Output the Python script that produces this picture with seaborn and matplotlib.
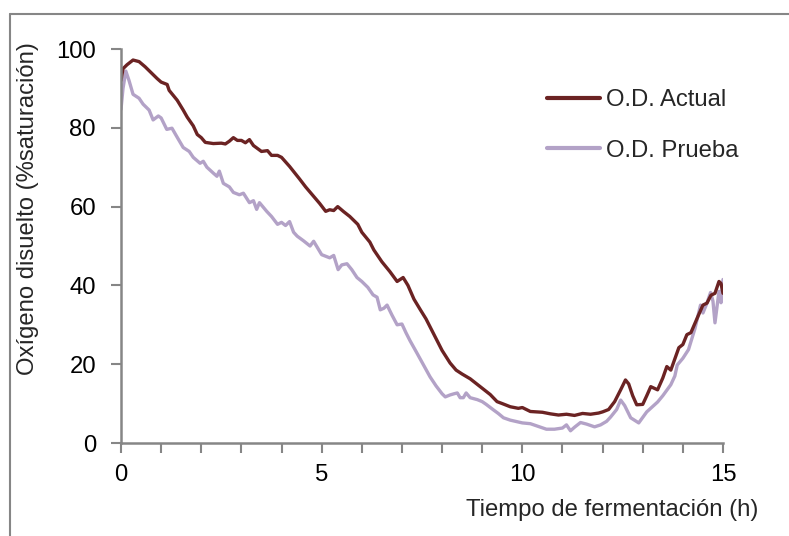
import matplotlib
matplotlib.use("Agg")
import numpy as np
import pandas as pd
import seaborn as sns
from matplotlib import pyplot as plt
from matplotlib.lines import Line2D
from matplotlib.ticker import MultipleLocator

# O.D. Actual
actual_t = [0.0, 0.05, 0.15, 0.3, 0.45, 0.6, 0.75, 0.9, 1.0, 1.15, 1.2, 1.4, 1.55, 1.65,
            1.8, 1.9, 2.0, 2.1, 2.3, 2.5, 2.6, 2.7, 2.8, 2.9, 3.0, 3.1, 3.2, 3.3, 3.5,
            3.65, 3.75, 3.9, 4.0, 4.2, 4.45, 4.6, 4.8, 4.95, 5.1, 5.2, 5.3, 5.4, 5.55,
            5.7, 5.9, 6.0, 6.2, 6.3, 6.5, 6.7, 6.88, 7.03, 7.15, 7.3, 7.46, 7.6, 7.8,
            8.0, 8.2, 8.35, 8.5, 8.7, 8.95, 9.2, 9.37, 9.5, 9.7, 9.9, 10.0, 10.2, 10.5,
            10.7, 10.9, 11.1, 11.3, 11.5, 11.7, 11.9, 12.0, 12.15, 12.3, 12.45, 12.57,
            12.65, 12.75, 12.85, 13.0, 13.1, 13.2, 13.37, 13.5, 13.6, 13.7, 13.9, 14.0,
            14.1, 14.2, 14.37, 14.5, 14.6, 14.7, 14.8, 14.9, 14.95, 15.0]
actual_od = [92, 95, 96, 97.2, 96.8, 95.5, 94, 92.5, 91.6, 91, 89.5, 87, 84.5, 82.7,
             80.5, 78.3, 77.5, 76.3, 76, 76.1, 75.9, 76.6, 77.5, 76.8, 76.8, 76.2, 77, 75.5, 74,
             74.2, 73, 73, 72.5, 70.2, 67, 65, 62.6, 60.8, 58.8, 59.2, 59, 60, 58.7,
             57.5, 55.5, 53.5, 51, 49, 46, 43.5, 41, 42, 40, 36.5, 33.8, 31.5, 27.5,
             23.5, 20.3, 18.5, 17.5, 16.3, 14.3, 12.3, 10.5, 10, 9.2, 8.8, 9, 8, 7.8,
             7.4, 7.1, 7.3, 7, 7.5, 7.3, 7.6, 7.9, 8.5, 10.5, 13.5, 16,
             15, 12, 9.7, 9.8, 12, 14.3, 13.5, 16.5, 19.4, 18.5, 24.2, 25,
             27.5, 28, 32, 35, 35.5, 37.5, 38, 41, 40.5, 38]

# O.D. Prueba
prueba_t = [0.0, 0.05, 0.12, 0.2, 0.3, 0.45, 0.55, 0.7, 0.8, 0.93, 1.0, 1.14, 1.27, 1.4,
            1.55, 1.7, 1.8, 1.97, 2.05, 2.14, 2.3, 2.39, 2.45, 2.55, 2.7, 2.8, 2.95, 3.05,
            3.2, 3.3, 3.38, 3.45, 3.63, 3.75, 3.9, 4.0, 4.1, 4.2, 4.3, 4.39, 4.55, 4.71,
            4.8, 5.0, 5.2, 5.3, 5.41, 5.5, 5.63, 5.75, 5.88, 6.0, 6.15, 6.28, 6.38, 6.46,
            6.55, 6.63, 6.75, 6.88, 7.0, 7.1, 7.2, 7.37, 7.5, 7.7, 7.85, 8.0, 8.08, 8.2,
            8.3, 8.38, 8.45, 8.53, 8.6, 8.7, 8.88, 9.0, 9.1, 9.28, 9.4, 9.53, 9.7, 10.0,
            10.2, 10.4, 10.6, 10.8, 11.0, 11.1, 11.2, 11.3, 11.45, 11.6, 11.8, 11.95, 12.1,
            12.2, 12.35, 12.45, 12.55, 12.7, 12.9, 13.0, 13.1, 13.37, 13.5, 13.7, 13.8,
            13.86, 14.0, 14.14, 14.3, 14.44, 14.5, 14.6, 14.69, 14.75, 14.8, 14.9, 14.95, 15.0]
prueba_od = [84.7, 90, 94.4, 92, 88.5, 87.5, 86, 84.5, 82, 83, 82.5, 79.6, 79.9, 77.6,
             75, 74, 72.5, 71, 71.5, 70, 68.5, 67.7, 69, 65.9, 65, 63.6, 63, 63.4,
             61, 61.5, 59.3, 61, 58.8, 57.5, 55.5, 56, 55.2, 56.2, 53.5, 52.5, 51.3, 50,
             51.2, 47.8, 47, 47.6, 44, 45.2, 45.5, 44, 42, 41, 39.5, 37.6, 37, 33.8,
             34.2, 35, 32.5, 30, 30.2, 28, 26, 22.9, 20.5, 16.8, 14.5, 12.5, 11.7, 12.2,
             12.5, 12.7, 11.5, 11.5, 12.7, 11.5, 11, 10.5, 9.8, 8.4, 7.5, 6.4, 5.8, 5.1,
             4.9, 4.2, 3.5, 3.5, 3.8, 4.6, 3.1, 4, 5.2, 4.8, 4.1, 4.6, 5.5,
             6.6, 8.5, 10.9, 9.5, 6.4, 5.1, 6.5, 7.9, 10.4, 12, 14.8, 17,
             19.8, 21.5, 23.7, 29, 35, 33, 35.5, 38.2, 36, 30.5, 38.5, 35.6, 41.5]

series_names = ["O.D. Actual", "O.D. Prueba"]
series_colors = ["#6B2323", "#B3A2C7"]

df = pd.concat([
    pd.DataFrame({"t": actual_t, "od": actual_od, "serie": series_names[0]}),
    pd.DataFrame({"t": prueba_t, "od": prueba_od, "serie": series_names[1]}),
])

sns.set_theme(style="ticks")
plt.rcParams["font.family"] = ["Liberation Sans", "DejaVu Sans"]

FS = 17.2
GRAY = "#868686"

fig = plt.figure(figsize=(7.89, 5.36), dpi=100)
ax = fig.add_axes([121 / 789, 1 - 443 / 536, 602 / 789, 394 / 536])

sns.lineplot(data=df, x="t", y="od", hue="serie", hue_order=series_names[::-1],
             palette=dict(zip(series_names, series_colors)), linewidth=2.4,
             sort=False, ax=ax, legend=False)

ax.set_xlim(0, 15)
ax.set_ylim(0, 100)
ax.xaxis.set_major_locator(MultipleLocator(5))
ax.xaxis.set_minor_locator(MultipleLocator(1))
ax.yaxis.set_major_locator(MultipleLocator(20))
ax.tick_params(axis="both", which="both", length=7, width=1.5, color=GRAY,
               direction="out", labelsize=FS, labelcolor="black")
ax.tick_params(axis="x", pad=8)
ax.tick_params(axis="y", pad=11)
sns.despine(ax=ax)
for s in ["left", "bottom"]:
    ax.spines[s].set_color(GRAY)
    ax.spines[s].set_linewidth(1.8)

ax.set_xlabel("Tiempo de fermentación (h)", fontsize=FS, ha="right", va="center")
ax.xaxis.set_label_coords(1.058, -0.17)
ax.set_ylabel("Oxígeno disuelto (%saturación)", fontsize=FS, va="center")
ax.yaxis.set_label_coords(-0.1545, 0.594)

handles = [Line2D([], [], color=c, linewidth=3) for c in series_colors]
fig.legend(handles, series_names, loc="center left",
           bbox_to_anchor=(547 / 789, 1 - 125.5 / 536), frameon=False,
           fontsize=FS, handlelength=2.2, handletextpad=0.25,
           labelspacing=1.2, borderpad=0, borderaxespad=0)

# outer chart border (Excel chart area)
fig.add_artist(Line2D([10 / 789, 10 / 789], [0, 1 - 14 / 536], transform=fig.transFigure,
                      color=GRAY, linewidth=1.5))
fig.add_artist(Line2D([10 / 789, 1], [1 - 14 / 536, 1 - 14 / 536], transform=fig.transFigure,
                      color=GRAY, linewidth=1.5))

fig.savefig("out.png", dpi=100)
